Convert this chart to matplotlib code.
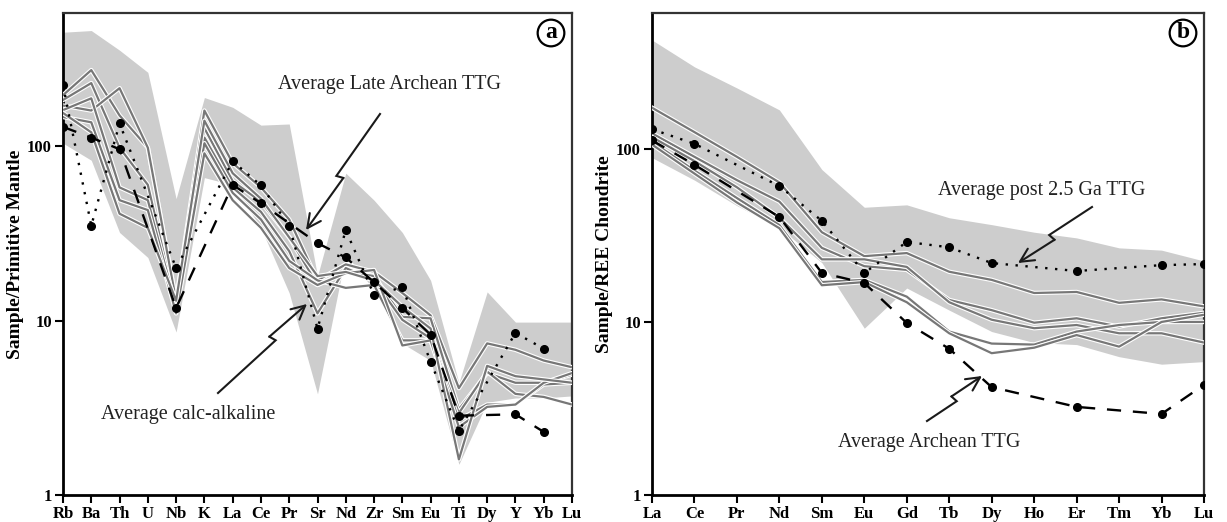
import numpy as np
import matplotlib
matplotlib.use("Agg")
import matplotlib.pyplot as plt
import matplotlib.patheffects as pe
from matplotlib.ticker import FixedLocator, NullLocator, FixedFormatter

plt.rcParams['font.family'] = ['Liberation Serif', 'DejaVu Serif']

# ---------------- Panel a data: Sample / Primitive Mantle ----------------
elems_a = ['Rb', 'Ba', 'Th', 'U', 'Nb', 'K', 'La', 'Ce', 'Pr', 'Sr', 'Nd', 'Zr',
           'Sm', 'Eu', 'Ti', 'Dy', 'Y', 'Yb', 'Lu']
band_a_upper = [450, 460, 355, 265, 50, 190, 167, 132, 134, 18, 70, 49, 32, 17, 4.4, 14.6, 9.8, 9.8, 9.8]
band_a_lower = [104, 83, 32, 23, 8.6, 66, 60, 34, 14.4, 3.8, 24, 15, 7.4, 5.9, 1.5, 3.4, 3.6, 3.6, 3.7]

samples_a = [
    [196, 273, 150, 98, 13, 160, 80, 58, 38, 17, 21, 19, 14.4, 10.7, 4.1, 7.4, 6.8, 5.9, 5.4],
    [184, 230, 98, 60, 12, 127, 63, 48, 30, 16, 19, 18, 10.5, 10.3, 3.1, 5.0, 4.4, 4.4, 4.9],
    [171, 160, 215, 98, 13, 112, 58, 42, 25, 11, 20, 17, 10.1, 7.9, 2.95, 5.1, 3.8, 3.65, 3.3],
    [161, 188, 58, 49, 12, 104, 54, 38, 22, 17, 15.4, 16, 7.7, 7.7, 2.7, 3.3, 3.3, 4.3, 4.4],
    [147, 137, 49, 43, 11, 91, 49, 34, 20, 16, 18.7, 19.5, 7.2, 7.7, 2.45, 3.2, 3.3, 4.4, 5.0],
    [155, 120, 41, 34, 13, 140, 70, 50, 30, 18, 19, 17, 12, 9, 1.6, 5.5, 4.8, 4.6, 4.4],
]
avg_calc_alkaline = [224, 35, 135, None, 20, None, 82, 59.5, 35, 9.0, 33, 14, 15.5, 5.8, 2.33, None, 8.5, 6.9, None]
avg_late_archean_ttg = [129, 112, 96, None, 11.8, None, 60, 47, None, 27.8, 23, 16.6, 11.8, 8.3, 2.85, None, 2.9, 2.3, None]

# ---------------- Panel b data: Sample / REE Chondrite ----------------
elems_b = ['La', 'Ce', 'Pr', 'Nd', 'Sm', 'Eu', 'Gd', 'Tb', 'Dy', 'Ho', 'Er', 'Tm', 'Yb', 'Lu']
band_b_upper = [426, 298, 225, 168, 76, 46, 47.5, 40, 36.5, 33, 30.6, 26.8, 26, 22.5]
band_b_lower = [89, 66, 47, 35, 22, 9.2, 15.7, 11.7, 8.8, 7.6, 7.4, 6.3, 5.7, 5.9]

samples_b = [
    [173, 125, 90, 64, 33, 24, 25, 19.5, 17.5, 14.7, 14.9, 12.9, 13.5, 12.3],
    [123, 90, 66, 49.6, 26.8, 21, 20, 13.4, 11.7, 9.9, 10.5, 9.4, 10.5, 11.3],
    [117, 85, 60, 40, 23, 23, 20.8, 13, 10.3, 9.2, 9.6, 8.6, 8.6, 7.6],
    [110, 75, 52, 36.3, 17, 17.5, 14, 8.8, 7.5, 7.4, 8.8, 9.6, 10, 10],
    [106, 72, 49, 34.8, 16.3, 17, 13, 8.6, 6.6, 7.1, 8.4, 7.2, 10, 11],
]
avg_post25_ttg = [130, 107, None, 61, 38.4, 19.2, 29, 27, 21.9, None, 19.7, None, 21.3, 21.6]
avg_archean_ttg = [112, 81, None, 40.4, 19.2, 16.8, 9.86, 7.0, 4.2, None, 3.23, None, 2.94, 4.33]

W, H = 1227, 522
fig = plt.figure(figsize=(W / 100, H / 100), dpi=100)

def fx(x):
    return x / W

def fy(y):
    return 1 - y / H

ax_a = fig.add_axes([fx(63), fy(495), fx(572) - fx(63), fy(13) - fy(495)])
ax_b = fig.add_axes([fx(652), fy(495), fx(1204) - fx(652), fy(13) - fy(495)])

band_color = '#cdcdcd'
line_gray = '#777777'
halo = [pe.Stroke(linewidth=3.2, foreground='white'), pe.Normal()]


def draw_avg(ax, vals, dashes):
    xs = [i for i, v in enumerate(vals) if v is not None]
    ys = [v for v in vals if v is not None]
    line, = ax.plot(xs, ys, color='black', lw=1.7, marker='o', ms=5.5,
                    mfc='black', mec='black', zorder=5)
    line.set_dashes(dashes)
    return line


def style_axes(ax, elems, ylabel):
    n = len(elems)
    ax.set_yscale('log')
    ax.set_xlim(0, n - 1)
    ax.set_xticks(range(n))
    ax.set_xticklabels(elems, fontsize=12, fontweight='bold')
    ax.yaxis.set_major_locator(FixedLocator([1, 10, 100]))
    ax.yaxis.set_major_formatter(FixedFormatter(['1', '10', '100']))
    ax.yaxis.set_minor_locator(NullLocator())
    for lab in ax.get_yticklabels():
        lab.set_fontsize(12)
        lab.set_fontweight('bold')
    ax.tick_params(axis='both', which='major', direction='out', length=6, width=1.5,
                   pad=2, colors='black')
    for s in ['left', 'bottom']:
        ax.spines[s].set_linewidth(2.0)
    for s in ['top', 'right']:
        ax.spines[s].set_linewidth(1.6)
        ax.spines[s].set_color('#333333')
    ax.set_ylabel(ylabel, fontsize=14, fontweight='bold', labelpad=2)


# ---- Panel a ----
xa = np.arange(len(elems_a))
ax_a.fill_between(xa, band_a_lower, band_a_upper, color=band_color, lw=0, zorder=1)
for s in samples_a:
    ax_a.plot(xa, s, color=line_gray, lw=1.6, zorder=3, path_effects=halo)
draw_avg(ax_a, avg_calc_alkaline, (1.0, 3.2))
draw_avg(ax_a, avg_late_archean_ttg, (6, 5))
ax_a.set_ylim(1, 580)
style_axes(ax_a, elems_a, 'Sample/Primitive Mantle')

# ---- Panel b ----
xb = np.arange(len(elems_b))
ax_b.fill_between(xb, band_b_lower, band_b_upper, color=band_color, lw=0, zorder=1)
for s in samples_b:
    ax_b.plot(xb, s, color=line_gray, lw=1.6, zorder=3, path_effects=halo)
draw_avg(ax_b, avg_post25_ttg, (1.0, 3.2))
draw_avg(ax_b, avg_archean_ttg, (6, 5))
ax_b.set_ylim(1, 610)
style_axes(ax_b, elems_b, 'Sample/REE Chondrite')

# ---- panel letters ----
for letter, (cx, cy) in [('a', (551, 33)), ('b', (1183, 33))]:
    fig.text(fx(cx), fy(cy), letter, fontsize=17, fontweight='bold', ha='center', va='center',
             bbox=dict(boxstyle='circle,pad=0.12', fc='white', ec='black', lw=1.6), zorder=10)

# ---- annotations with lightning arrows ----
def lightning(start, tip, frac=0.5, amp=3.5):
    sx, sy = start
    tx, ty = tip
    dx, dy = tx - sx, ty - sy
    L = np.hypot(dx, dy)
    ux, uy = dx / L, dy / L
    px_, py_ = -uy, ux
    a_x, a_y = sx + frac * dx + px_ * amp, sy + frac * dy + py_ * amp
    b_x, b_y = sx + (frac - 0.015) * dx - px_ * amp, sy + (frac - 0.015) * dy - py_ * amp
    pts = [(sx, sy), (a_x, a_y), (b_x, b_y)]
    xs = [fx(p[0]) for p in pts]
    ys = [fy(p[1]) for p in pts]
    fig.add_artist(plt.Line2D(xs, ys, color='#1a1a1a', lw=1.5, transform=fig.transFigure,
                              zorder=9, solid_joinstyle='miter'))
    fig.add_artist(matplotlib.patches.FancyArrowPatch(
        (fx(b_x), fy(b_y)), (fx(tx), fy(ty)), transform=fig.transFigure,
        arrowstyle='->,head_length=0.7,head_width=0.35', color='#1a1a1a', lw=1.5,
        shrinkA=0, shrinkB=0, mutation_scale=14, zorder=9))

txt_kw = dict(fontsize=14.5, color='#222222', ha='center', va='center', zorder=9)
fig.text(fx(389), fy(84), 'Average Late Archean TTG', **txt_kw)
lightning((380, 114), (306, 230), frac=0.55)
fig.text(fx(188), fy(415), 'Average calc-alkaline', **txt_kw)
lightning((218, 393), (307, 304), frac=0.62)
fig.text(fx(1042), fy(190), 'Average post 2.5 Ga TTG', **txt_kw)
lightning((1092, 207), (1018, 263), frac=0.55)
fig.text(fx(929), fy(443), 'Average Archean TTG', **txt_kw)
lightning((927, 421), (982, 376), frac=0.5)

fig.savefig('out.png', dpi=100)
